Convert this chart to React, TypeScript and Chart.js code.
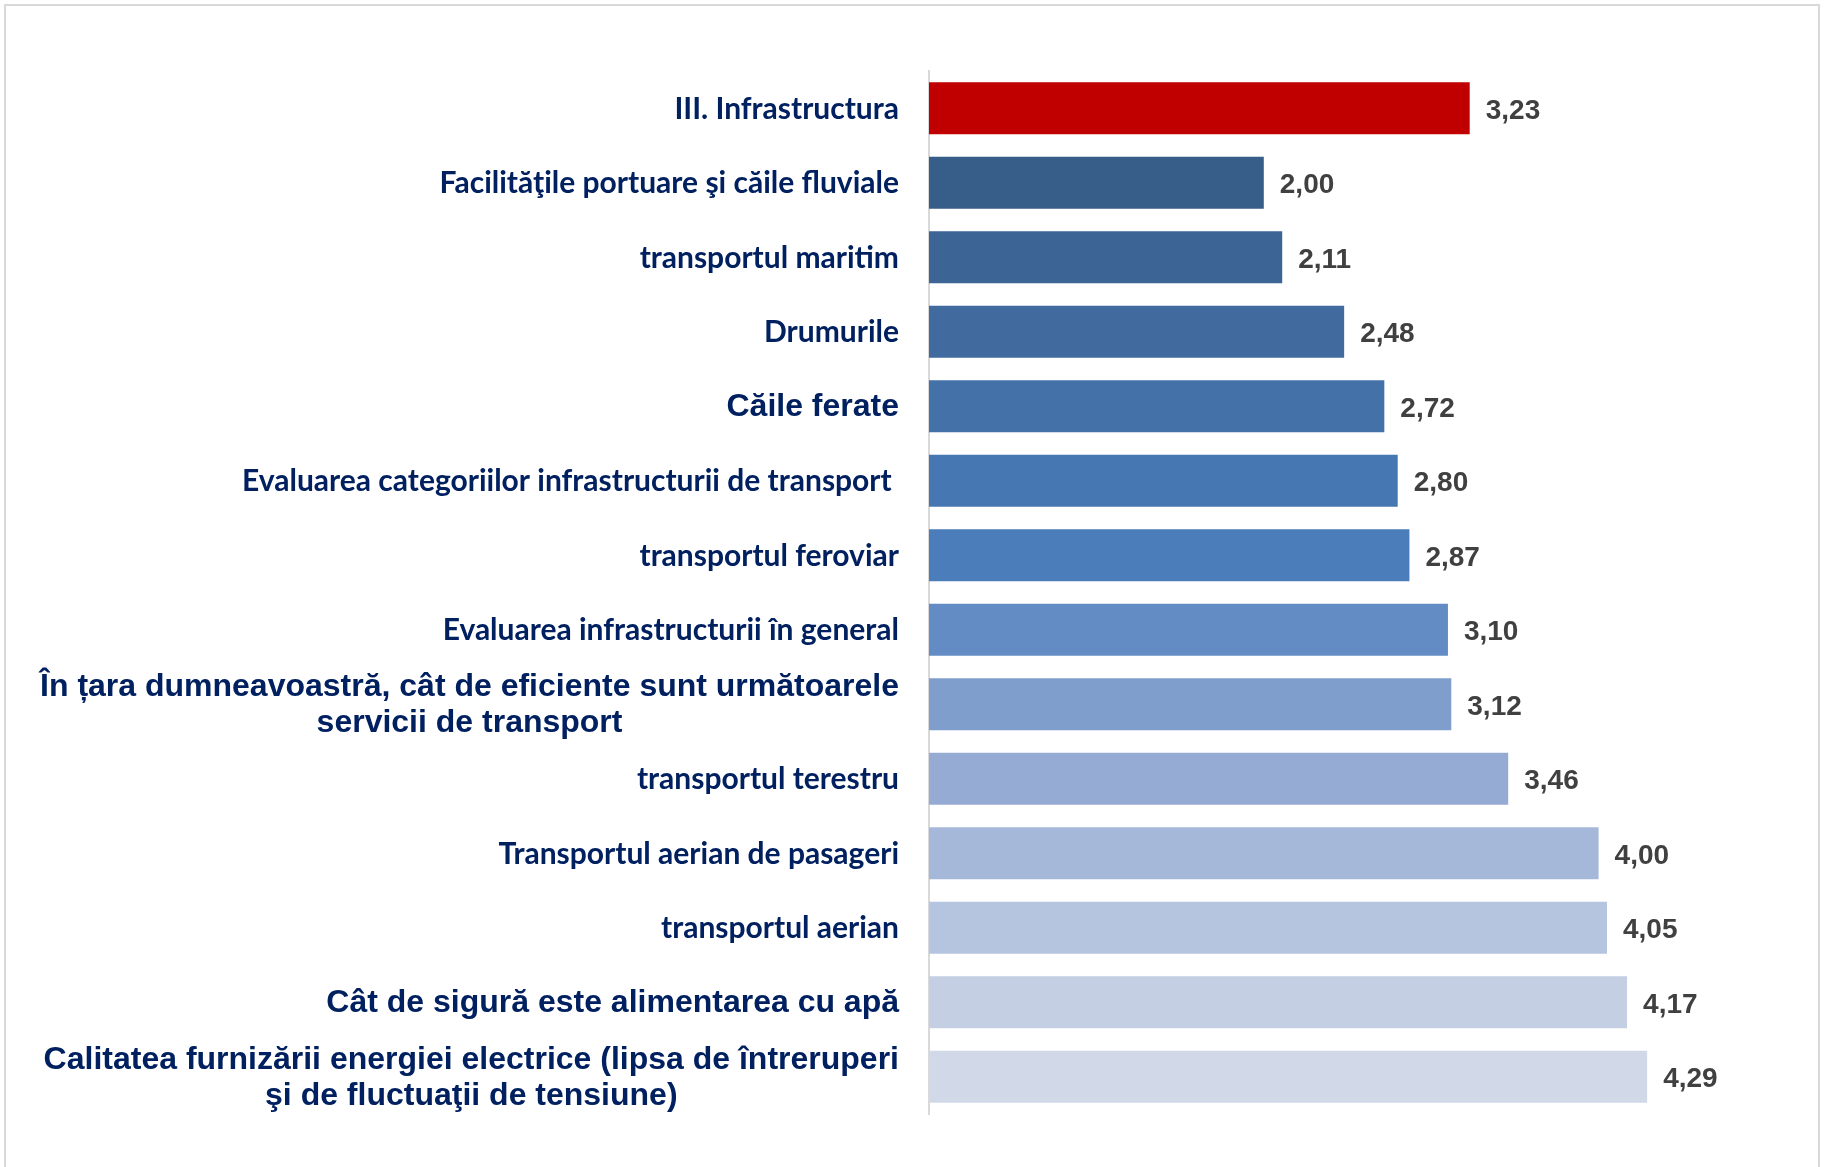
import React, { useEffect, useRef } from "react";
import { Chart, registerables } from "chart.js";

Chart.register(...registerables);

const categories: (string | string[])[] = [
  "III. Infrastructura",
  "Facilităţile portuare şi căile fluviale",
  "transportul maritim",
  "Drumurile",
  "Căile ferate",
  "Evaluarea categoriilor infrastructurii de transport ",
  "transportul feroviar",
  "Evaluarea infrastructurii în general",
  ["În țara dumneavoastră, cât de eficiente sunt următoarele", "servicii de transport"],
  "transportul terestru",
  "Transportul aerian de pasageri",
  "transportul aerian",
  "Cât de sigură este alimentarea cu apă",
  ["Calitatea furnizării energiei electrice (lipsa de întreruperi", "şi de fluctuaţii de tensiune)"],
];

const values = [3.23, 2.0, 2.11, 2.48, 2.72, 2.8, 2.87, 3.1, 3.12, 3.46, 4.0, 4.05, 4.17, 4.29];

const barColors = [
  "#C00000",
  "#375D89",
  "#3C6596",
  "#416A9F",
  "#4471A8",
  "#4777B2",
  "#4B7DBB",
  "#638CC4",
  "#7F9ECB",
  "#96ABD3",
  "#A6B8D9",
  "#B5C4DF",
  "#C4CFE4",
  "#D1D9E8",
];

// indices of labels drawn in the larger Arial-like face
const largeLabelIndex = [4, 8, 12, 13];

const AXIS_X = 929;
const LABEL_GAP = 30;

const categoryLabelPlugin = {
  id: "categoryLabels",
  afterDraw(chart: any) {
    const ctx = chart.ctx as CanvasRenderingContext2D;
    const yScale = chart.scales.y;
    const right = yScale.right - LABEL_GAP;
    (chart.data.labels as (string | string[])[]).forEach((lab, i) => {
      const lines = Array.isArray(lab) ? lab : [lab];
      const big = largeLabelIndex.includes(i);
      ctx.save();
      ctx.font = big
        ? "bold 32px 'Liberation Sans', Arial, sans-serif"
        : "bold 30px Lato, sans-serif";
      ctx.fillStyle = "#002060";
      ctx.textBaseline = "middle";
      ctx.textAlign = "center";
      const w = Math.max(...lines.map((l) => ctx.measureText(l).width));
      const lh = 36;
      const cy = yScale.getPixelForValue(i) + 1;
      lines.forEach((l, k) => {
        ctx.fillText(l, right - w / 2, cy + (k - (lines.length - 1) / 2) * lh);
      });
      ctx.restore();
    });
  },
};

const valueLabelPlugin = {
  id: "valueLabels",
  afterDatasetsDraw(chart: any) {
    const ctx = chart.ctx as CanvasRenderingContext2D;
    const meta = chart.getDatasetMeta(0);
    const data = chart.data.datasets[0].data as number[];
    ctx.save();
    ctx.font = "bold 28px 'Liberation Sans', Arial, sans-serif";
    ctx.fillStyle = "#404040";
    ctx.textAlign = "left";
    ctx.textBaseline = "middle";
    meta.data.forEach((bar: any, i: number) => {
      const txt = data[i].toFixed(2).replace(".", ",");
      ctx.fillText(txt, bar.x + 16, bar.y + 3);
    });
    ctx.restore();
  },
};

export default function App() {
  const ref = useRef<HTMLCanvasElement | null>(null);

  useEffect(() => {
    if (!ref.current) return;
    const chart = new Chart(ref.current, {
      type: "bar",
      data: {
        labels: categories,
        datasets: [
          {
            data: values,
            backgroundColor: barColors,
            borderWidth: 0,
            barPercentage: 0.7,
            categoryPercentage: 1,
          },
        ],
      },
      options: {
        indexAxis: "y",
        responsive: false,
        animation: false,
        devicePixelRatio: 1,
        layout: { padding: { left: 0, right: 59, top: 71, bottom: 53 } },
        plugins: {
          legend: { display: false },
          tooltip: { enabled: false },
          title: { display: false },
        },
        scales: {
          x: {
            display: false,
            min: 0,
            max: 5,
          },
          y: {
            display: true,
            grid: { display: false },
            border: { display: true, color: "#D9D9D9", width: 2 },
            ticks: { display: false },
            afterFit(scale: any) {
              scale.width = AXIS_X;
            },
          },
        },
      },
      plugins: [categoryLabelPlugin, valueLabelPlugin],
    });
    return () => chart.destroy();
  }, []);

  return (
    <div style={{ position: "absolute", left: 0, top: 0, width: 1825, height: 1167, overflow: "hidden", background: "#fff" }}>
      <div
        style={{
          position: "absolute",
          left: 4,
          top: 4,
          width: 1812,
          height: 1200,
          border: "2px solid #D9D9D9",
        }}
      />
      <canvas
        ref={ref}
        width={1825}
        height={1167}
        style={{ position: "absolute", left: 0, top: 0, width: 1825, height: 1167 }}
      />
    </div>
  );
}
